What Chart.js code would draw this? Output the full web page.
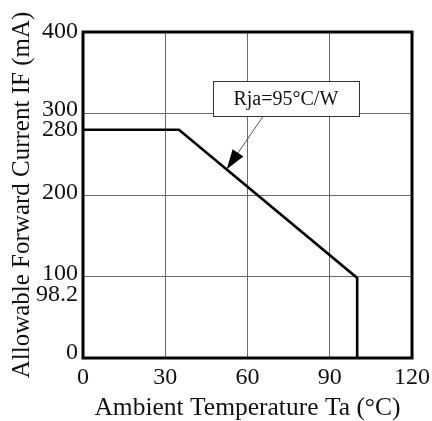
<!DOCTYPE html>
<html>
<head>
<meta charset="utf-8">
<script src="https://cdn.jsdelivr.net/npm/chart.js@4"></script>
<style>
  html, body { margin: 0; padding: 0; background: #fff; }
  #wrap { width: 432px; height: 421px; }
</style>
</head>
<body>
<div id="wrap"><canvas id="derating"></canvas></div>
<script>
// derating curve
const temps = [0, 35, 100, 100];
const currents = [280, 280, 98.2, 0];
const xTicks = [0, 30, 60, 90, 120];
const yTicks = [0, 98.2, 100, 200, 280, 300, 400];
const noGrid = [98.2, 280];
const noteText = "Rja=95°C/W";

const serif = "'Liberation Serif', 'Times New Roman', serif";

// crowded y labels get nudged apart (shift in px, - is up)
const labelShift = { 0: -5, 100: -3, 98.2: 17, 300: -4, 200: -2 };

// box with label + arrow pointing at the slope
const notePlugin = {
    id: "note",
    afterDatasetsDraw(chart) {
        const { ctx, scales: { x, y } } = chart;
        const cx = x.getPixelForValue(74), cy = y.getPixelForValue(318);
        const w = 146, h = 35;
        const sx = x.getPixelForValue(65.6), sy = y.getPixelForValue(296);
        const tx = x.getPixelForValue(52.4), ty = y.getPixelForValue(231.5);
        ctx.save();
        // arrow line
        ctx.strokeStyle = "#555";
        ctx.lineWidth = 1;
        ctx.beginPath();
        ctx.moveTo(sx, sy);
        ctx.lineTo(tx, ty);
        ctx.stroke();
        // arrow head
        const ang = Math.atan2(ty - sy, tx - sx);
        const len = 20, half = 6.5;
        ctx.fillStyle = "#000";
        ctx.beginPath();
        ctx.moveTo(tx, ty);
        ctx.lineTo(tx - len * Math.cos(ang) + half * Math.sin(ang), ty - len * Math.sin(ang) - half * Math.cos(ang));
        ctx.lineTo(tx - len * Math.cos(ang) - half * Math.sin(ang), ty - len * Math.sin(ang) + half * Math.cos(ang));
        ctx.closePath();
        ctx.fill();
        // box
        ctx.fillStyle = "#fff";
        ctx.fillRect(cx - w / 2, cy - h / 2, w, h);
        ctx.strokeStyle = "#333";
        ctx.strokeRect(Math.round(cx - w / 2) + 0.5, Math.round(cy - h / 2) + 0.5, w, h);
        ctx.fillStyle = "#111";
        ctx.font = "20px " + serif;
        ctx.textAlign = "center";
        ctx.textBaseline = "middle";
        ctx.fillText(noteText, cx, cy + 1);
        ctx.restore();
    }
};

// heavy frame round the plot
const framePlugin = {
    id: "frame",
    afterDraw(chart) {
        const { ctx, chartArea: a } = chart;
        ctx.save();
        ctx.strokeStyle = "#000";
        ctx.lineWidth = 3;
        ctx.strokeRect(a.left, a.top, a.right - a.left, a.bottom - a.top);
        ctx.restore();
    }
};

new Chart(document.getElementById("derating"), {
    type: "line",
    data: {
        datasets: [{
            data: temps.map((t, i) => ({ x: t, y: currents[i] })),
            borderColor: "#000",
            borderWidth: 2.6,
            pointRadius: 0,
            tension: 0,
            fill: false
        }]
    },
    options: {
        responsive: true,
        maintainAspectRatio: false,
        animation: false,
        layout: { padding: { left: 0, top: 32, right: 20, bottom: 0 } },
        plugins: { legend: { display: false }, tooltip: { enabled: false } },
        scales: {
            x: {
                type: "linear",
                min: 0,
                max: 120,
                afterBuildTicks: s => { s.ticks = xTicks.map(v => ({ value: v })); },
                afterFit: s => { s.height = 63; s.paddingLeft = 0; s.paddingRight = 0; },
                grid: { color: "#6a6a6a", lineWidth: 1, drawTicks: false },
                border: { display: false },
                ticks: {
                    color: "#111",
                    padding: 5,
                    maxRotation: 0,
                    font: { family: serif, size: 24 },
                    callback: v => String(v)
                },
                title: {
                    display: true,
                    text: "Ambient Temperature Ta (°C)",
                    color: "#111",
                    font: { family: serif, size: 25.5, lineHeight: 1 },
                    padding: { top: 0, bottom: 0 }
                }
            },
            y: {
                type: "linear",
                min: 0,
                max: 400,
                afterBuildTicks: s => { s.ticks = yTicks.map(v => ({ value: v })); },
                afterFit: s => { s.width = 83; },
                grid: {
                    color: c => (c.tick && noGrid.includes(c.tick.value)) ? "rgba(0,0,0,0)" : "#6a6a6a",
                    lineWidth: 1,
                    drawTicks: false
                },
                border: { display: false },
                ticks: {
                    color: "#111",
                    padding: 5,
                    autoSkip: false,
                    font: c => {
                        const d = c.tick ? labelShift[c.tick.value] : undefined;
                        return d ? { family: serif, size: 24, lineHeight: Math.abs(d) * 2 / 24 }
                                 : { family: serif, size: 24 };
                    },
                    callback: v => {
                        const d = labelShift[v];
                        if (!d) return String(v);
                        return d > 0 ? ["", String(v)] : [String(v), ""];
                    }
                },
                title: {
                    display: true,
                    text: "Allowable Forward Current IF (mA)",
                    color: "#111",
                    font: { family: serif, size: 25 },
                    padding: { top: 7, bottom: 0 }
                }
            }
        }
    },
    plugins: [notePlugin, framePlugin]
});
</script>
</body>
</html>
